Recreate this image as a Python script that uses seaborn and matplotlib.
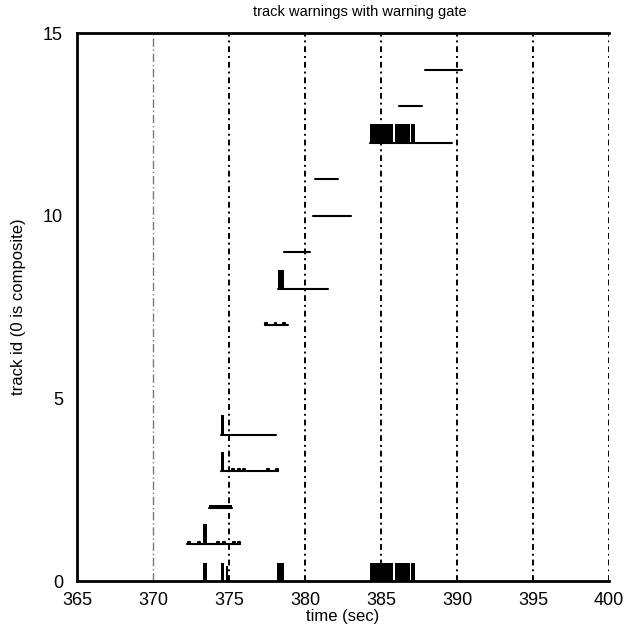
import numpy as np
import pandas as pd
import seaborn as sns
import matplotlib
matplotlib.use("Agg")
import matplotlib.pyplot as plt

# ---- data ----
track_ids   = [1, 2, 3, 4, 7, 8, 9, 10, 11, 12, 13, 14]
track_start = [372.25, 373.7, 374.5, 374.5, 377.4, 378.2, 378.6, 380.5, 380.65, 384.3, 386.2, 387.9]
track_end   = [375.7, 375.2, 378.2, 378.1, 378.9, 381.5, 380.3, 383.0, 382.2, 389.7, 387.7, 390.3]

# warning-gate pulses: track, start, end, height
pulse_track = [0, 0, 0, 0, 0, 0, 0, 1, 3, 4, 8, 12, 12, 12, 2]
pulse_t0    = [373.3, 374.5, 374.8, 378.15, 384.3, 385.9, 386.98, 373.3, 374.5, 374.5, 378.2, 384.3, 385.9, 386.98, 373.7]
pulse_t1    = [373.55, 374.65, 374.95, 378.65, 385.8, 386.9, 387.25, 373.55, 374.65, 374.68, 378.65, 385.8, 386.9, 387.25, 375.2]
pulse_h     = [0.5, 0.5, 0.4, 0.5, 0.5, 0.5, 0.5, 0.55, 0.52, 0.55, 0.5, 0.5, 0.5, 0.5, 0.07]

# small bumps on tracks
bump_track = [1, 1, 1, 1, 1, 1, 3, 3, 3, 3, 3, 7, 7, 7]
bump_t     = [372.3, 372.96, 374.2, 374.6, 375.26, 375.6, 375.2, 375.6, 375.9, 377.5, 378.1, 377.4, 378.0, 378.55]

grid_x = [370, 375, 380, 385, 390, 395, 400]
x_ticks = [365, 370, 375, 380, 385, 390, 395, 400]
y_ticks = [0, 5, 10, 15]

# ---- build long-form table ----
rows = []
seg = 0
for tid, s, e in zip(track_ids, track_start, track_end):
    rows += [(s, tid, seg), (e, tid, seg)]
    seg += 1
for tid, t in zip(bump_track, bump_t):
    w = 0.12
    rows += [(t, tid, seg), (t, tid + 0.06, seg), (t + w, tid + 0.06, seg), (t + w, tid, seg)]
    seg += 1
df = pd.DataFrame(rows, columns=["time", "track", "seg"])

sns.set_theme(style="white")
plt.rcParams['font.family'] = ['Liberation Sans', 'DejaVu Sans']

fig = plt.figure(figsize=(6.34, 6.30), dpi=100)
ax = fig.add_axes([77/634, 1 - 581/630, 532/634, 548/630])

for gx in grid_x:
    if gx == 370:
        ax.axvline(gx, color="#7a7a7a", lw=1.0, ls=(0, (6, 2, 1, 2)), zorder=1)
    else:
        ax.axvline(gx, color="black", lw=1.4, ls=(0, (3, 2, 1, 2)), zorder=1)

sns.lineplot(data=df, x="time", y="track", units="seg", estimator=None,
             color="black", lw=1.5, ax=ax, sort=False, legend=False, zorder=3)

for tid, t0, t1, h in zip(pulse_track, pulse_t0, pulse_t1, pulse_h):
    ax.fill_between([t0, t1], [tid, tid], [tid + h, tid + h], facecolor="black",
                    edgecolor="none", lw=0, zorder=3)

ax.set_xlim(365, 400)
ax.set_ylim(0, 15)
ax.set_xticks(x_ticks)
ax.set_yticks(y_ticks)
ax.tick_params(direction="in", length=4, width=1, labelsize=13, colors="black")
ax.tick_params(axis="y", pad=10)
ax.tick_params(axis="x", pad=8)
for side in ["left", "bottom", "top"]:
    ax.spines[side].set_color("black")
    ax.spines[side].set_linewidth(2)
ax.spines["right"].set_visible(False)

ax.set_xlabel("time (sec)", fontsize=12, labelpad=0, color="black")
ax.set_ylabel("track id (0 is composite)", fontsize=12, labelpad=12, color="black")
ax.set_title("track warnings with warning gate", fontsize=10.5, x=(360 - 77) / 532, pad=12, color="black")

fig.savefig("out.png", dpi=100)
